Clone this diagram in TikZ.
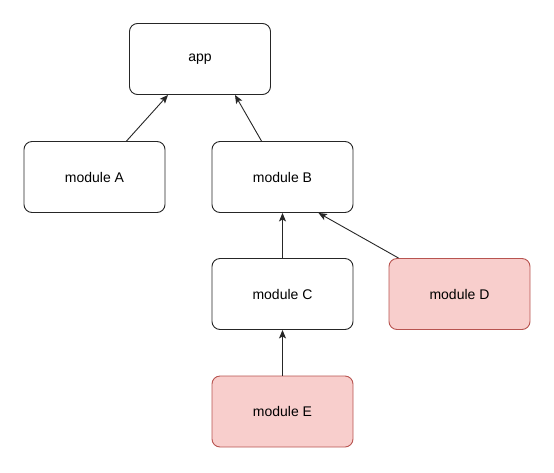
\documentclass[tikz,border=0pt]{standalone}
\usepackage{fontspec}
\setmainfont{Liberation Sans}
\usetikzlibrary{positioning, arrows.meta}
\definecolor{redfill}{HTML}{F8CECC}
\definecolor{redline}{HTML}{B85450}

\begin{document}
\begin{tikzpicture}[x=1pt, y=-1pt, font=\fontsize{14}{15}\selectfont,
        box/.style={draw=black!85, line width=0.9pt, rounded corners=8pt, minimum width=141pt, minimum height=71pt},
        redbox/.style={box, draw=redline, fill=redfill},
        dep/.style={-{Stealth[length=8.5pt, width=7pt, inset=2pt]}, line width=0.9pt, draw=black!85}]
                \useasboundingbox (0,0) rectangle (554,472);

                \node[box] (app) at (200,59) {app};
                \node[box] (module A) at (94.5,177) {module A};
                \node[box] (module B) at (282.5,177) {module B};
                \node[box] (module C) at (282.5,294) {module C};
                \node[redbox] (module D) at (459.5,294) {module D};
                \node[redbox] (module E) at (282.5,411.5) {module E};

                \draw[dep] ([xshift=32pt]module A.north) -- ([xshift=-32pt]app.south);
                \draw[dep] ([xshift=-21pt]module B.north) -- ([xshift=35pt]app.south);
                \draw[dep] (module C) -- (module B);
                \draw[dep] ([xshift=10pt]module D.north west) -- ([xshift=36pt]module B.south);
                \draw[dep] (module E) -- (module C);

            \end{tikzpicture}
\end{document}
